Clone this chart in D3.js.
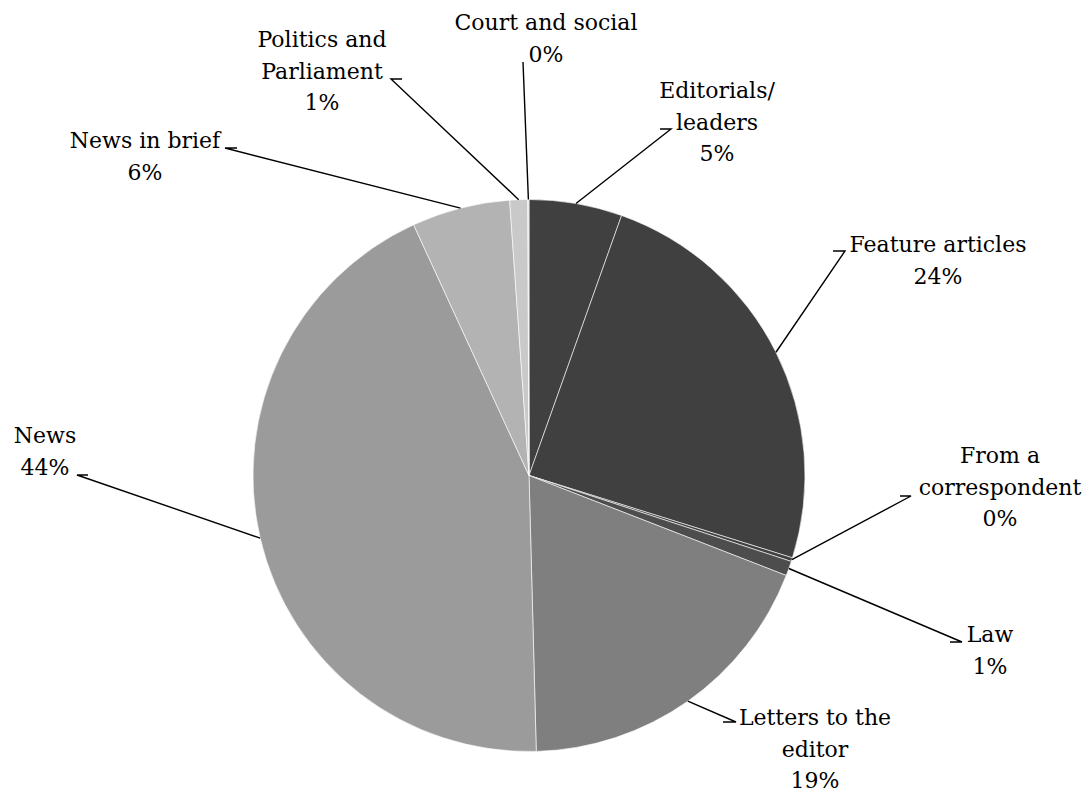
<!DOCTYPE html>
<html>
<head>
<meta charset="utf-8">
<script src="https://cdn.jsdelivr.net/npm/d3@7"></script>
<style>
  body { margin: 0; background: #fff; }
  text { font-family: "DejaVu Serif", "Liberation Serif", serif; font-size: 22px; fill: #000; }
</style>
</head>
<body>
<div id="root"></div>
<script>
// slices, clockwise from 12 o'clock
const categories = ["Editorials/ leaders", "Feature articles", "From a correspondent", "Law",
  "Letters to the editor", "News", "News in brief", "Politics and Parliament", "Court and social"];
const shares = [5.45, 24.4, 0.22, 0.86, 18.7, 43.6, 5.75, 1.05, 0.07];
const greys = ["#404040", "#404040", "#404040", "#4d4d4d", "#7f7f7f", "#9b9b9b", "#b3b3b3", "#c9c9c9", "#dcdcdc"];

// label text lines, broken as in the picture
const labelLines = [["Editorials/", "leaders"], ["Feature articles"], ["From a", "correspondent"], ["Law"],
  ["Letters to the", "editor"], ["News"], ["News in brief"], ["Politics and", "Parliament"], ["Court and social"]];

// where each label sits (centre x, first baseline) and its leader stub
const labelLayout = [
  {x: 717, y: 98, stub: [671, 660, 129]},
  {x: 938, y: 252, stub: [845, 833, 251]},
  {x: 1000, y: 463, stub: [911, 900, 496]},
  {x: 990, y: 642, stub: [962, 950, 642]},
  {x: 815, y: 725, stub: [736, 723, 722]},
  {x: 45, y: 443, stub: [77, 88, 475]},
  {x: 145, y: 148, stub: [225, 237, 148]},
  {x: 322, y: 47, stub: [391, 402, 79]},
  {x: 546, y: 30, stub: null, top: [523, 62]}
];

const w = 1091, h = 793;
const cx = 529, cy = 475.5, r = 276;
const lineGap = 31.5;

const svg = d3.select("#root").append("svg")
  .attr("width", w)
  .attr("height", h);

const total = d3.sum(shares);
const slices = d3.pie().sort(null).value(d => d)(shares);
const arc = d3.arc().innerRadius(0).outerRadius(r);

const g = svg.append("g").attr("transform", "translate(" + cx + "," + cy + ")");

g.selectAll("path.slice")
  .data(slices)
  .enter().append("path")
    .attr("class", "slice")
    .attr("d", arc)
    .attr("fill", (d, i) => greys[i])
    .attr("stroke", "#fff")
    .attr("stroke-width", 0.6);

// leader lines: slice edge at mid angle -> stub -> label
const lines = svg.append("g");
slices.forEach(function(d, i){
  const mid = (d.startAngle + d.endAngle) / 2;
  const ex = cx + r * Math.sin(mid), ey = cy - r * Math.cos(mid);
  const lay = labelLayout[i];
  let pts;
  if (lay.stub) {
    pts = [[ex, ey], [lay.stub[0], lay.stub[2]], [lay.stub[1], lay.stub[2]]];
  } else {
    pts = [[ex, ey], lay.top];
  }
  lines.append("path")
    .attr("d", d3.line()(pts))
    .attr("fill", "none")
    .attr("stroke", "#000")
    .attr("stroke-width", 1.4);
});

// labels
const labels = svg.append("g");
slices.forEach(function(d, i){
  const lay = labelLayout[i];
  const pct = Math.round(shares[i] / total * 100) + "%";
  const rows = labelLines[i].concat([pct]);
  const t = labels.append("text")
    .attr("text-anchor", "middle")
    .attr("x", lay.x)
    .attr("y", lay.y);
  rows.forEach(function(row, j){
    t.append("tspan")
      .attr("x", lay.x)
      .attr("y", lay.y + j * lineGap)
      .text(row);
  });
});
</script>
</body>
</html>
